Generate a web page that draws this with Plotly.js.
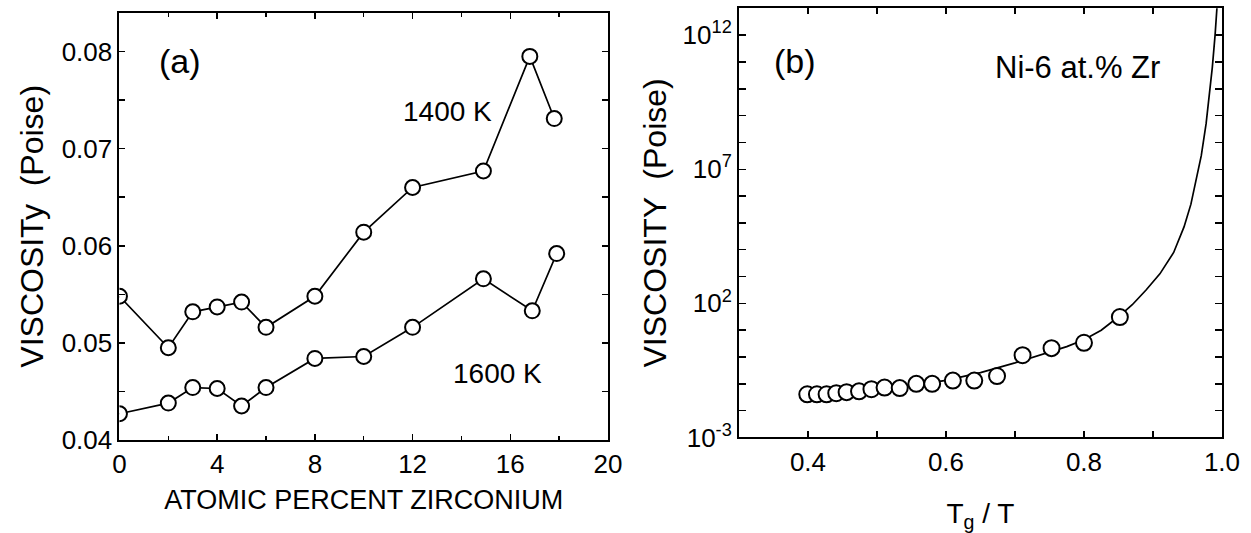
<!DOCTYPE html>
<html><head><meta charset="utf-8">
<script src="https://cdn.plot.ly/plotly-3.0.1.min.js"></script>
<style>html,body{margin:0;padding:0;background:#fff}#chart{width:1251px;height:533px}</style>
</head><body><div id="chart"></div>
<script>
// Panel (a): viscosity vs atomic percent zirconium
const zrPercent1400 = [0, 2, 3, 4, 5, 6, 8, 10, 12, 14.9, 16.8, 17.8];
const visc1400 = [0.0548, 0.0495, 0.0532, 0.0537, 0.0542, 0.0516, 0.0548, 0.0614, 0.0660, 0.0677, 0.0795, 0.0731];
const zrPercent1600 = [0, 2, 3, 4, 5, 6, 8, 10, 12, 14.9, 16.9, 17.9];
const visc1600 = [0.0427, 0.0438, 0.0454, 0.0453, 0.0435, 0.0454, 0.0484, 0.0486, 0.0516, 0.0566, 0.0533, 0.0592];

// Panel (b): Ni-6 at.% Zr, viscosity vs Tg/T
const tgOverT = [0.399, 0.413, 0.427, 0.441, 0.456, 0.474, 0.492, 0.511, 0.533, 0.557, 0.580, 0.610, 0.641, 0.674, 0.711, 0.753, 0.800, 0.852];
const viscNi6 = [0.0407, 0.0407, 0.0407, 0.0447, 0.0490, 0.0525, 0.0631, 0.0724, 0.0692, 0.100, 0.100, 0.132, 0.132, 0.195, 1.17, 2.14, 3.39, 30.9];
const fitTgOverT = [0.40, 0.45, 0.50, 0.55, 0.60, 0.65, 0.70, 0.75, 0.775, 0.80, 0.825, 0.85, 0.87, 0.89, 0.91, 0.93, 0.945, 0.955, 0.963, 0.97, 0.977, 0.982, 0.986, 0.99, 0.994];
const fitVisc = [0.038, 0.0457, 0.0603, 0.0851, 0.135, 0.263, 0.603, 1.51, 2.45, 4.37, 10, 31.6, 89, 316, 1.26e3, 7.9e3, 7.1e4, 5.0e5, 4.0e6, 3.2e7, 5.0e8, 5.6e9, 6.3e10, 1e12, 3.2e13];

const logMajorVals = [1e-3, 1e2, 1e7, 1e12];
const logMajorText = ['10<sup>-3</sup>', '10<sup>2</sup>', '10<sup>7</sup>', '10<sup>12</sup>'];
const logMinorVals = [1e-2, 1e-1, 1, 1e1, 1e3, 1e4, 1e5, 1e6, 1e8, 1e9, 1e10, 1e11, 1e13];

const FONT = 'Liberation Sans, Arial, sans-serif';
const markerA = {symbol: 'circle', size: 15, color: '#fff', line: {color: '#000', width: 2}};
const markerB = {symbol: 'circle', size: 16, color: '#fff', line: {color: '#000', width: 2}};

const traces = [
  {x: zrPercent1400, y: visc1400, xaxis: 'x', yaxis: 'y', mode: 'lines+markers', name: '1400 K',
   line: {color: '#000', width: 1.7}, marker: markerA},
  {x: zrPercent1600, y: visc1600, xaxis: 'x', yaxis: 'y', mode: 'lines+markers', name: '1600 K',
   line: {color: '#000', width: 1.7}, marker: markerA},
  {x: fitTgOverT, y: fitVisc, xaxis: 'x2', yaxis: 'y2', mode: 'lines', name: 'fit',
   line: {color: '#000', width: 1.7, shape: 'linear'}},
  {x: tgOverT, y: viscNi6, xaxis: 'x2', yaxis: 'y2', mode: 'markers', name: 'Ni-6 at.% Zr',
   marker: markerB}
];

const axisCommon = {
  showline: true, linecolor: '#000', linewidth: 2, mirror: 'allticks',
  ticks: 'inside', ticklen: 6, tickwidth: 1.5, tickcolor: '#000',
  showgrid: false, zeroline: false,
  tickfont: {family: FONT, size: 26, color: '#000'}
};

const layout = {
  width: 1251, height: 533,
  margin: {l: 0, r: 0, t: 0, b: 0},
  paper_bgcolor: '#fff', plot_bgcolor: '#fff',
  showlegend: false,
  font: {family: FONT, color: '#000'},
  xaxis: Object.assign({}, axisCommon, {
    domain: [0.0955, 0.486], range: [0, 20], dtick: 4, tick0: 0,
    minor: {dtick: 2, ticks: 'inside', ticklen: 4, tickcolor: '#000', tickwidth: 1.5},
    anchor: 'y',
    title: {text: 'ATOMIC PERCENT ZIRCONIUM', font: {family: FONT, size: 27, color: '#000'}, standoff: 12}
  }),
  yaxis: Object.assign({}, axisCommon, {
    domain: [0.1745, 0.9762], range: [0.04, 0.084], dtick: 0.01, tick0: 0.04,
    minor: {dtick: 0.005, ticks: 'inside', ticklen: 6, tickcolor: '#000', tickwidth: 1.5},
    anchor: 'x', tickformat: '.2f',
    title: {text: 'VISCOSITy  (Poise)', font: {family: FONT, size: 32, color: '#000'}, standoff: 8}
  }),
  xaxis2: Object.assign({}, axisCommon, {
    domain: [0.5907, 0.9768], range: [0.3, 1.0], dtick: 0.2, tick0: 0.4, tickformat: '.1f',
    minor: {dtick: 0.1, ticks: 'inside', ticklen: 6, tickcolor: '#000', tickwidth: 1.5},
    anchor: 'y2',
    title: {text: 'T<sub>g</sub> / T', font: {family: FONT, size: 28, color: '#000'}, standoff: 46}
  }),
  yaxis2: Object.assign({}, axisCommon, {
    domain: [0.1792, 0.9844], type: 'log', range: [-3, 13],
    tickmode: 'array', tickvals: logMajorVals, ticktext: logMajorText, ticklen: 7,
    minor: {tickmode: 'array', tickvals: logMinorVals, ticks: 'inside', ticklen: 7, tickcolor: '#000', tickwidth: 1.5},
    anchor: 'x2',
    title: {text: 'VISCOSITY  (Poise)', font: {family: FONT, size: 32, color: '#000'}, standoff: 6}
  }),
  annotations: [
    {xref: 'paper', yref: 'paper', x: 180/1251, y: 1 - 61/533, text: '(a)', showarrow: false,
     font: {family: FONT, size: 34, color: '#000'}, xanchor: 'center', yanchor: 'middle'},
    {xref: 'paper', yref: 'paper', x: 447/1251, y: 1 - 111/533, text: '1400 K', showarrow: false,
     font: {family: FONT, size: 28, color: '#000'}, xanchor: 'center', yanchor: 'middle'},
    {xref: 'paper', yref: 'paper', x: 497/1251, y: 1 - 373/533, text: '1600 K', showarrow: false,
     font: {family: FONT, size: 28, color: '#000'}, xanchor: 'center', yanchor: 'middle'},
    {xref: 'paper', yref: 'paper', x: 795/1251, y: 1 - 61/533, text: '(b)', showarrow: false,
     font: {family: FONT, size: 34, color: '#000'}, xanchor: 'center', yanchor: 'middle'},
    {xref: 'paper', yref: 'paper', x: 1077/1251, y: 1 - 67/533, text: 'Ni-6 at.% Zr', showarrow: false,
     font: {family: FONT, size: 31, color: '#000'}, xanchor: 'center', yanchor: 'middle'}
  ]
};

Plotly.newPlot('chart', traces, layout, {staticPlot: true, displayModeBar: false});
</script>
</body></html>
